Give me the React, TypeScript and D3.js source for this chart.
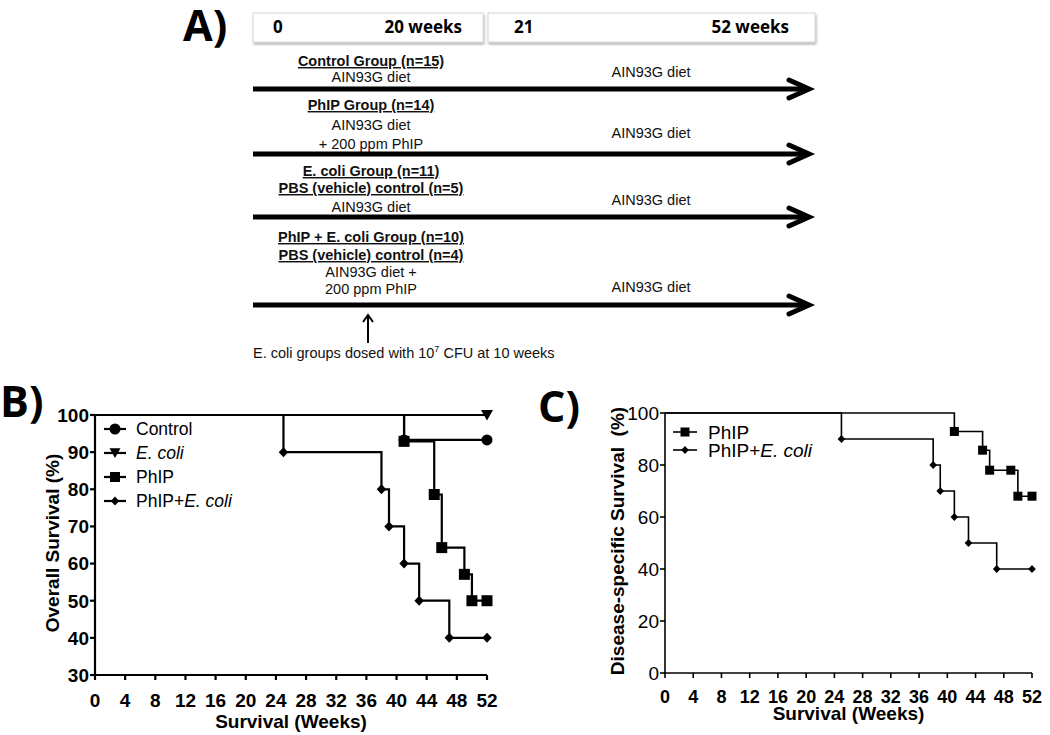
import React from "react";
import * as d3 from "d3";

// ---------- DATA ----------
const weekTicks = [0, 4, 8, 12, 16, 20, 24, 28, 32, 36, 40, 44, 48, 52];
const overallTicks = [30, 40, 50, 60, 70, 80, 90, 100];
const diseaseTicks = [0, 20, 40, 60, 80, 100];

// Panel B – overall survival (Kaplan–Meier steps)
const controlTimes = [0, 41, 52];
const controlSurv = [100, 93.3, 93.3];
const ecoliTimes = [0, 52];
const ecoliSurv = [100, 100];
const phipTimes = [0, 41, 45, 46, 49, 50, 52];
const phipSurv = [100, 92.9, 78.6, 64.3, 57.1, 50, 50];
const phipEcoliTimes = [0, 25, 38, 39, 41, 43, 47, 52];
const phipEcoliSurv = [100, 90, 80, 70, 60, 50, 40, 40];

// Panel C – disease-specific survival
const phipDsTimes = [0, 41, 45, 46, 49, 50, 52];
const phipDsSurv = [100, 92.9, 85.7, 78, 78, 68, 68];
const phipEcoliDsTimes = [0, 25, 38, 39, 41, 43, 47, 52];
const phipEcoliDsSurv = [100, 90, 80, 70, 60, 50, 40, 40];

// Panel A – study design texts
const headerLabels = ["0", "20 weeks", "21", "52 weeks"];
const groupTitles = [
  ["Control Group (n=15)"],
  ["PhIP Group (n=14)"],
  ["E. coli Group (n=11)", "PBS (vehicle) control (n=5)"],
  ["PhIP + E. coli Group (n=10)", "PBS (vehicle) control (n=4)"],
];
const groupDiets = [
  ["AIN93G diet"],
  ["AIN93G diet", "+ 200 ppm PhIP"],
  ["AIN93G diet"],
  ["AIN93G diet +", "200 ppm PhIP"],
];
const laterDiet = "AIN93G diet";

// ---------- LAYOUT ----------
const FONT = "'Liberation Sans', Arial, sans-serif";
const LABEL_FONT = "'Open Sans', 'Liberation Sans', sans-serif";

const groupTextBaselines = [
  [66, 82],
  [110, 130, 149],
  [176, 193, 212],
  [242, 260, 277, 294],
];
const arrowYs = [89, 154, 217, 305];
const rightDietYs = [77, 138, 205, 292];

function markerPath(shape: string, cx: number, cy: number, s: number) {
  const h = s / 2;
  if (shape === "circle") {
    return `M${cx - h},${cy}A${h},${h} 0 1,0 ${cx + h},${cy}A${h},${h} 0 1,0 ${cx - h},${cy}Z`;
  }
  if (shape === "square") {
    return `M${cx - h},${cy - h}H${cx + h}V${cy + h}H${cx - h}Z`;
  }
  if (shape === "diamond") {
    return `M${cx},${cy - h}L${cx + h * 0.95},${cy}L${cx},${cy + h}L${cx - h * 0.95},${cy}Z`;
  }
  // triangle down
  return `M${cx - h},${cy - h * 0.85}H${cx + h}L${cx},${cy + h * 0.9}Z`;
}

type Series = { times: number[]; surv: number[]; shape: string; size: number };

function KMPanel(props: {
  x: d3.ScaleLinear<number, number>;
  y: d3.ScaleLinear<number, number>;
  series: Series[];
  yTicks: number[];
  bold: boolean;
  lineW: number;
  yTitle: string;
  yTitleX: number;
  xTickBaseline: number;
  xTickSize: number;
  xTitleBaseline: number;
}) {
  const { x, y, series, yTicks, bold, lineW } = props;
  const [x0, x1] = x.range();
  const [y0, y1] = y.range();
  const line = d3
    .line<[number, number]>()
    .x((d) => x(d[0]))
    .y((d) => y(d[1]))
    .curve(d3.curveStepAfter);
  return (
    <g>
      {series.map((s, i) => {
        const pts = s.times.map((t, j) => [t, s.surv[j]] as [number, number]);
        return (
          <g key={i}>
            <path d={line(pts) || ""} fill="none" stroke="#000" strokeWidth={lineW} />
            {pts.slice(1).map((p, j) => (
              <path key={j} d={markerPath(s.shape, x(p[0]), y(p[1]), s.size)} fill="#000" />
            ))}
          </g>
        );
      })}
      {/* axes */}
      <line x1={x0} x2={x1} y1={y0} y2={y0} stroke="#000" strokeWidth={lineW} />
      <line x1={x0} x2={x0} y1={y0 + lineW / 2} y2={y1} stroke="#000" strokeWidth={lineW} />
      {weekTicks.map((t) => (
        <g key={t}>
          <line x1={x(t)} x2={x(t)} y1={y0} y2={y0 + 5} stroke="#000" strokeWidth={lineW} />
          <text
            x={x(t)}
            y={props.xTickBaseline}
            textAnchor="middle"
            fontFamily={FONT}
            fontWeight="bold"
            fontSize={props.xTickSize}
          >
            {t}
          </text>
        </g>
      ))}
      {yTicks.map((t) => (
        <g key={t}>
          <line x1={x0 - 5} x2={x0} y1={y(t)} y2={y(t)} stroke="#000" strokeWidth={lineW} />
          <text
            x={x0 - 6}
            y={y(t)}
            dy="0.36em"
            textAnchor="end"
            fontFamily={FONT}
            fontWeight={bold ? "bold" : "normal"}
            fontSize={19}
          >
            {t}
          </text>
        </g>
      ))}
      <text
        x={(x0 + x1) / 2}
        y={props.xTitleBaseline}
        textAnchor="middle"
        fontFamily={FONT}
        fontWeight="bold"
        fontSize={19}
      >
        Survival (Weeks)
      </text>
      <text
        transform={`translate(${props.yTitleX},${(y0 + y1) / 2 - 2}) rotate(-90)`}
        textAnchor="middle"
        dy="0.36em"
        fontFamily={FONT}
        fontWeight="bold"
        fontSize={19}
        style={{ whiteSpace: "pre" }}
      >
        {props.yTitle}
      </text>
    </g>
  );
}

function LegendLabel({ label }: { label: string }) {
  const idx = label.indexOf("E. coli");
  if (idx < 0) return <>{label}</>;
  return (
    <>
      {label.slice(0, idx)}
      <tspan fontStyle="italic">E. coli</tspan>
    </>
  );
}

export default function App() {
  const xB = d3.scaleLinear().domain([0, 52]).range([95, 487]);
  const yB = d3.scaleLinear().domain([30, 100]).range([675, 415]);
  const xC = d3.scaleLinear().domain([0, 52]).range([665, 1032]);
  const yC = d3.scaleLinear().domain([0, 100]).range([673, 413]);

  const seriesB: Series[] = [
    { times: ecoliTimes, surv: ecoliSurv, shape: "triangle", size: 12 },
    { times: controlTimes, surv: controlSurv, shape: "circle", size: 11 },
    { times: phipEcoliTimes, surv: phipEcoliSurv, shape: "diamond", size: 10 },
    { times: phipTimes, surv: phipSurv, shape: "square", size: 11 },
  ];
  const seriesC: Series[] = [
    { times: phipEcoliDsTimes, surv: phipEcoliDsSurv, shape: "diamond", size: 8 },
    { times: phipDsTimes, surv: phipDsSurv, shape: "square", size: 9 },
  ];

  const legendB = [
    { label: "Control", shape: "circle", size: 11 },
    { label: "E. coli", shape: "triangle", size: 11 },
    { label: "PhIP", shape: "square", size: 10 },
    { label: "PhIP+E. coli", shape: "diamond", size: 9 },
  ];
  const legendC = [
    { label: "PhIP", shape: "square", size: 9 },
    { label: "PhIP+E. coli", shape: "diamond", size: 8 },
  ];

  const leftCx = 371;
  const rightCx = 651;
  const arrowX0 = 253;
  const arrowX1 = 810;

  return (
    <svg
      width={1050}
      height={735}
      style={{ position: "absolute", left: 0, top: 0, background: "#fff" }}
    >
      <defs>
        <filter id="shadow" x="-5%" y="-20%" width="110%" height="160%">
          <feDropShadow dx="1" dy="2" stdDeviation="1.2" floodColor="#000" floodOpacity="0.3" />
        </filter>
      </defs>
      <rect x={0} y={0} width={1050} height={735} fill="#fff" />

      {/* Panel labels */}
      <text x={183} y={41} fontFamily={LABEL_FONT} fontWeight="bold" fontSize={43}>
        A)
      </text>
      <text x={0} y={417} fontFamily={LABEL_FONT} fontWeight="bold" fontSize={43}>
        B)
      </text>
      <text x={538} y={422} fontFamily={LABEL_FONT} fontWeight="bold" fontSize={43}>
        C)
      </text>

      {/* Panel A header boxes */}
      <rect x={253} y={13} width={230} height={29} fill="#fff" stroke="#d6d6d6" filter="url(#shadow)" />
      <rect x={488} y={13} width={327} height={29} fill="#fff" stroke="#d6d6d6" filter="url(#shadow)" />
      <g fontFamily={LABEL_FONT} fontWeight="bold" fontSize={17}>
        <text x={273} y={33}>{headerLabels[0]}</text>
        <text x={462} y={33} textAnchor="end">{headerLabels[1]}</text>
        <text x={514} y={33}>{headerLabels[2]}</text>
        <text x={789} y={33} textAnchor="end">{headerLabels[3]}</text>
      </g>

      {/* Panel A groups */}
      {groupTitles.map((titles, gi) => {
        const bl = groupTextBaselines[gi];
        const diets = groupDiets[gi];
        const ay = arrowYs[gi];
        return (
          <g key={gi} fontFamily={FONT} fontSize={14.5}>
            {titles.map((t, ti) => (
              <text
                key={"t" + ti}
                x={leftCx}
                y={bl[ti]}
                textAnchor="middle"
                fontWeight="bold"
                textDecoration="underline"
                fill="#111"
              >
                {t}
              </text>
            ))}
            {diets.map((t, di) => (
              <text key={"d" + di} x={leftCx} y={bl[titles.length + di]} textAnchor="middle" fill="#111">
                {t}
              </text>
            ))}
            <text x={rightCx} y={rightDietYs[gi]} textAnchor="middle" fill="#111">
              {laterDiet}
            </text>
            <line x1={arrowX0} x2={arrowX1 - 3} y1={ay} y2={ay} stroke="#000" strokeWidth={5} />
            <path
              d={`M${arrowX1 - 21},${ay - 9}L${arrowX1 - 1},${ay}L${arrowX1 - 21},${ay + 9}`}
              fill="none"
              stroke="#000"
              strokeWidth={5}
              strokeLinecap="round"
              strokeLinejoin="miter"
            />
          </g>
        );
      })}

      {/* dosing arrow */}
      <line x1={368} x2={368} y1={343} y2={316} stroke="#000" strokeWidth={2} />
      <path d="M363,322L368,315L373,322" fill="none" stroke="#000" strokeWidth={2} />
      <text x={253} y={358} fontFamily={FONT} fontSize={14.5} fill="#111">
        E. coli groups dosed with 10
        <tspan fontSize={9} dy={-6}>7</tspan>
        <tspan dy={6}> CFU at 10 weeks</tspan>
      </text>

      {/* Panel B */}
      <KMPanel
        x={xB}
        y={yB}
        series={seriesB}
        yTicks={overallTicks}
        bold={true}
        lineW={2.2}
        yTitle="Overall Survival (%)"
        yTitleX={52}
        xTickBaseline={707}
        xTickSize={19}
        xTitleBaseline={728}
      />
      {legendB.map((l, i) => {
        const ly = 429 + i * 24;
        return (
          <g key={i}>
            <line x1={104} x2={126} y1={ly} y2={ly} stroke="#000" strokeWidth={2.2} />
            <path d={markerPath(l.shape, 115, ly, l.size)} fill="#000" />
            <text x={136} y={ly} dy="0.36em" fontFamily={FONT} fontSize={17.5}>
              <LegendLabel label={l.label} />
            </text>
          </g>
        );
      })}

      {/* Panel C */}
      <KMPanel
        x={xC}
        y={yC}
        series={seriesC}
        yTicks={diseaseTicks}
        bold={false}
        lineW={1.6}
        yTitle="Disease-specific Survival  (%)"
        yTitleX={617}
        xTickBaseline={703}
        xTickSize={18}
        xTitleBaseline={720}
      />
      {legendC.map((l, i) => {
        const ly = 432 + i * 18;
        return (
          <g key={i}>
            <line x1={673} x2={697} y1={ly} y2={ly} stroke="#000" strokeWidth={1.6} />
            <path d={markerPath(l.shape, 685, ly, l.size)} fill="#000" />
            <text x={708} y={ly} dy="0.36em" fontFamily={FONT} fontSize={19}>
              <LegendLabel label={l.label} />
            </text>
          </g>
        );
      })}
    </svg>
  );
}
